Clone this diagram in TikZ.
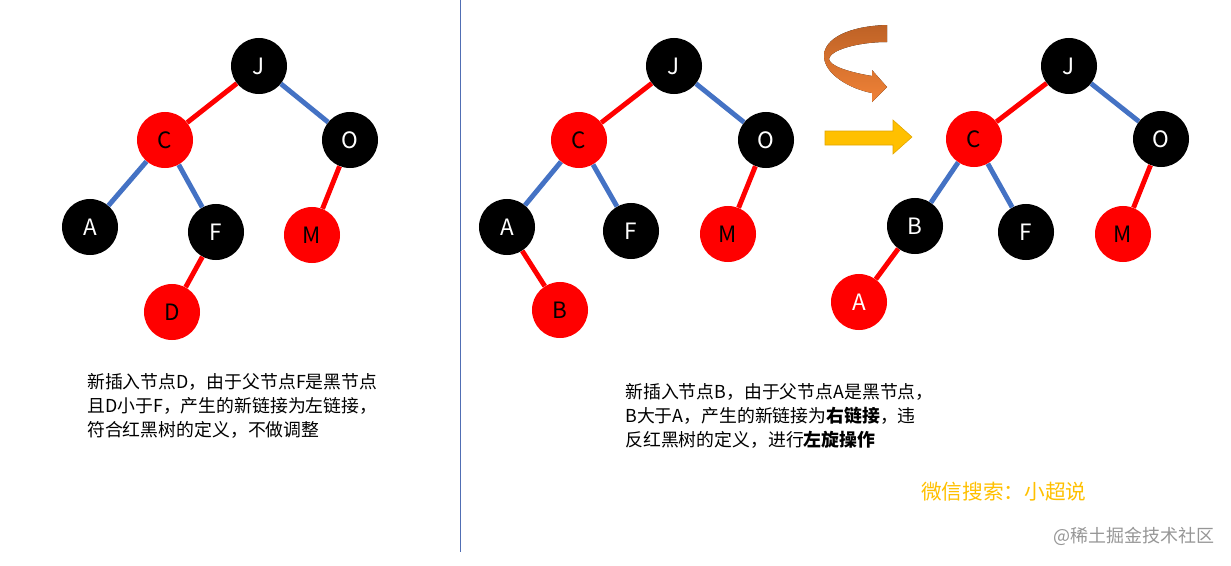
\documentclass[tikz,border=0pt]{standalone}
\usepackage{fontspec}
\setmainfont{Noto Sans CJK SC}
\usepackage{tikz}
\usetikzlibrary{shapes, arrows.meta, positioning, calc}
\definecolor{edgeblue}{RGB}{68, 114, 196}
\definecolor{sepblue}{RGB}{80, 110, 180}
\definecolor{rotdark}{RGB}{190, 98, 38}
\definecolor{rotlight}{RGB}{240, 130, 55}
\definecolor{goldy}{RGB}{255, 192, 0}
\definecolor{goldline}{RGB}{225, 165, 0}
\definecolor{wmgray}{RGB}{150, 150, 150}

\begin{document}
\begin{tikzpicture}[
  x=0.025cm, y=-0.025cm,
  bnode/.style={circle, fill=black, text=white, inner sep=0pt, minimum size=1.4cm, font=\fontsize{16}{16}\selectfont},
  rnode/.style={circle, fill=red, text=black, inner sep=0pt, minimum size=1.4cm, font=\fontsize{16}{16}\selectfont},
  rlink/.style={draw=red, line width=3.5pt},
  blink/.style={draw=edgeblue, line width=3.5pt},
  note/.style={anchor=north west, inner sep=0pt, align=left, font=\fontsize{12.7}{17}\selectfont}
]
  \useasboundingbox (0,0) rectangle (1231,566);
  \draw[sepblue, line width=0.7pt] (460,0) -- (460,552);

  % left tree
  \node[bnode] (lJ) at (259,66) {J};
  \node[rnode] (lC) at (165,140) {C};
  \node[bnode] (lO) at (350,140) {O};
  \node[bnode] (lA) at (90,227) {A};
  \node[bnode] (lF) at (216,232) {F};
  \node[rnode] (lM) at (312,235) {M};
  \node[rnode] (lD) at (172,312) {D};
  \draw[rlink] (lJ) -- (lC);
  \draw[blink] (lJ) -- (lO);
  \draw[blink] (lC) -- (lA);
  \draw[blink] (lC) -- (lF);
  \draw[rlink] (lO) -- (lM);
  \draw[rlink] (lF) -- (lD);

  % middle tree
  \node[bnode] (mJ) at (674,66) {J};
  \node[rnode] (mC) at (579,140) {C};
  \node[bnode] (mO) at (766,140) {O};
  \node[bnode] (mA) at (507,227) {A};
  \node[bnode] (mF) at (631,231) {F};
  \node[rnode] (mM) at (728,234) {M};
  \node[rnode] (mB) at (560,310) {B};
  \draw[rlink] (mJ) -- (mC);
  \draw[blink] (mJ) -- (mO);
  \draw[blink] (mC) -- (mA);
  \draw[blink] (mC) -- (mF);
  \draw[rlink] (mO) -- (mM);
  \draw[rlink] (mA) -- (mB);

  % right tree
  \node[bnode] (rJ) at (1069,66) {J};
  \node[rnode] (rC) at (974,139) {C};
  \node[bnode] (rO) at (1161,139) {O};
  \node[bnode] (rB) at (915,226) {B};
  \node[bnode] (rF) at (1026,232) {F};
  \node[rnode] (rM) at (1123,234) {M};
  \node[rnode, text=white] (rA) at (859,302) {A};
  \draw[rlink] (rJ) -- (rC);
  \draw[blink] (rJ) -- (rO);
  \draw[blink] (rC) -- (rB);
  \draw[blink] (rC) -- (rF);
  \draw[rlink] (rO) -- (rM);
  \draw[rlink] (rB) -- (rA);

  % rotation arrows
  \fill[top color=rotdark, bottom color=rotlight]
    (887,25) .. controls (850,26) and (824,38) .. (824,56)
    .. controls (824,74) and (850,89) .. (872,93) -- (872,102) -- (887,87)
    -- (872,70) -- (872,76) .. controls (848,72) and (830,66) .. (829,59)
    .. controls (830,50) and (858,42) .. (887,42) -- cycle;
  \filldraw[fill=goldy, draw=goldline, line width=0.4pt]
    (825,131) -- (893,131) -- (893,120) -- (912,137) -- (893,154) -- (893,145) -- (825,145) -- cycle;

  \node[note] (lnote) at (87,373) {新插入节点D，由于父节点F是黑节点\\且D小于F，产生的新链接为左链接，\\符合红黑树的定义，不做调整};
  \node[note] (mnote) at (625,383) {新插入节点B，由于父节点A是黑节点，\\B大于A，产生的新链接为\textbf{右链接}，违\\反红黑树的定义，进行\textbf{左旋操作}};
  \node[note, text=goldy, font=\fontsize{14.7}{17}\selectfont] (wx) at (921,482) {微信搜索：小超说};
  \node[note, text=wmgray, font=\fontsize{12.8}{15}\selectfont] (wm) at (1053,527) {@稀土掘金技术社区};
\end{tikzpicture}
\end{document}
